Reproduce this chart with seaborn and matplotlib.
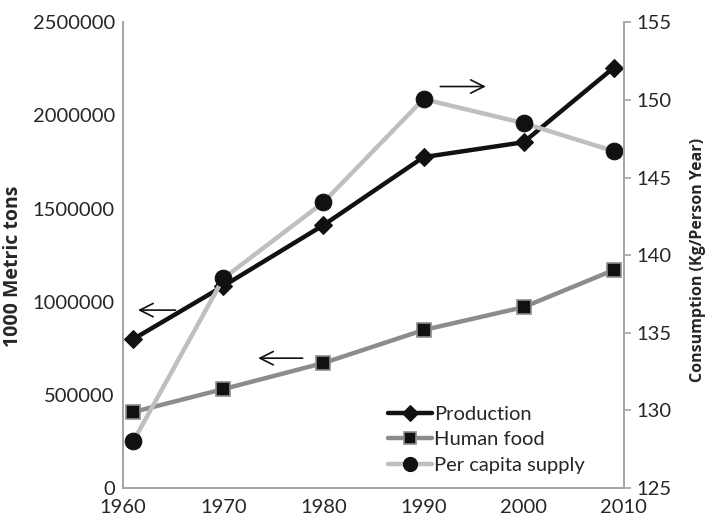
import pandas as pd
import matplotlib
matplotlib.use("Agg")
import matplotlib.pyplot as plt
import seaborn as sns

# values
years = [1961, 1970, 1980, 1990, 2000, 2009]
production = [799000, 1084000, 1411000, 1776000, 1856000, 2256000]
human_food = [408000, 531000, 671000, 848000, 971000, 1170000]
per_capita = [128.0, 138.5, 143.4, 150.05, 148.5, 146.7]

x_ticks = [1960, 1970, 1980, 1990, 2000, 2010]
left_ticks = [0, 500000, 1000000, 1500000, 2000000, 2500000]
right_ticks = [125, 130, 135, 140, 145, 150, 155]

df = pd.DataFrame({"year": years, "Production": production,
                   "Human food": human_food, "Per capita supply": per_capita})

sns.set_theme(style="white")
plt.rcParams["font.family"] = ["Lato", "DejaVu Sans"]

axis_gray = "#a6a6a6"
fs = 14.5
fig = plt.figure(figsize=(7.08, 5.17), dpi=100)
ax = fig.add_axes([0.174, 0.056, 0.707, 0.901])
ax2 = ax.twinx()

sns.lineplot(data=df, x="year", y="Production", ax=ax, color="#111111", lw=3.2,
             marker="D", markersize=9, markeredgecolor="#111111", label="Production", legend=False)
sns.lineplot(data=df, x="year", y="Human food", ax=ax, color="#8c8c8c", lw=3.2,
             marker="s", markersize=10, markerfacecolor="#111111", markeredgecolor="#8c8c8c",
             markeredgewidth=1.2, label="Human food", legend=False)
sns.lineplot(data=df, x="year", y="Per capita supply", ax=ax2, color="#bfbfbf", lw=3.2,
             marker="o", markersize=12, markerfacecolor="#111111", markeredgecolor="#111111",
             label="Per capita supply", legend=False)

ax.set_xlim(1960, 2010)
ax.set_ylim(0, 2500000)
ax2.set_ylim(125, 155)
ax.set_xticks(x_ticks)
ax.set_yticks(left_ticks)
ax2.set_yticks(right_ticks)
ax.set_yticklabels([str(v) for v in left_ticks])

label_font = ["Open Sans", "DejaVu Sans"]
ax.set_xlabel("")
ax.set_ylabel("1000 Metric tons", fontsize=14, fontweight="bold", family=label_font)
ax2.set_ylabel("Consumption (Kg/Person Year)", fontsize=11.5, fontweight="bold", family=label_font)
ax.yaxis.set_label_coords(-0.2, 0.475)
ax2.yaxis.set_label_coords(1.132, 0.49)

for a in (ax, ax2):
    a.spines["top"].set_visible(False)
    for s in ("left", "right", "bottom"):
        a.spines[s].set_color(axis_gray)
        a.spines[s].set_linewidth(1.3)
    a.grid(False)

ax.tick_params(axis="x", direction="in", length=5, color=axis_gray, labelsize=fs, pad=8)
ax.tick_params(axis="y", length=0, labelsize=fs, pad=6)
ax2.tick_params(axis="y", direction="out", length=5, color=axis_gray, labelsize=fs, pad=4)

# arrows telling which axis each series uses
arrow = dict(arrowstyle="->", color="#111111", lw=1.2, mutation_scale=24)
ax.annotate("", xy=(1961.2, 955000), xytext=(1965.5, 955000), arrowprops=arrow)
ax.annotate("", xy=(1973.2, 697000), xytext=(1978.2, 697000), arrowprops=arrow)
ax.annotate("", xy=(1996.5, 2155000), xytext=(1991.4, 2155000), arrowprops=arrow)

h1, l1 = ax.get_legend_handles_labels()
h2, l2 = ax2.get_legend_handles_labels()
ax2.legend(h1 + h2, l1 + l2, loc="lower left", bbox_to_anchor=(0.5, 0.0),
           frameon=False, fontsize=fs, handlelength=2.2, handletextpad=0.1,
           labelspacing=0.42, borderaxespad=0.3, markerscale=0.85)

fig.savefig("out.png", dpi=100)
